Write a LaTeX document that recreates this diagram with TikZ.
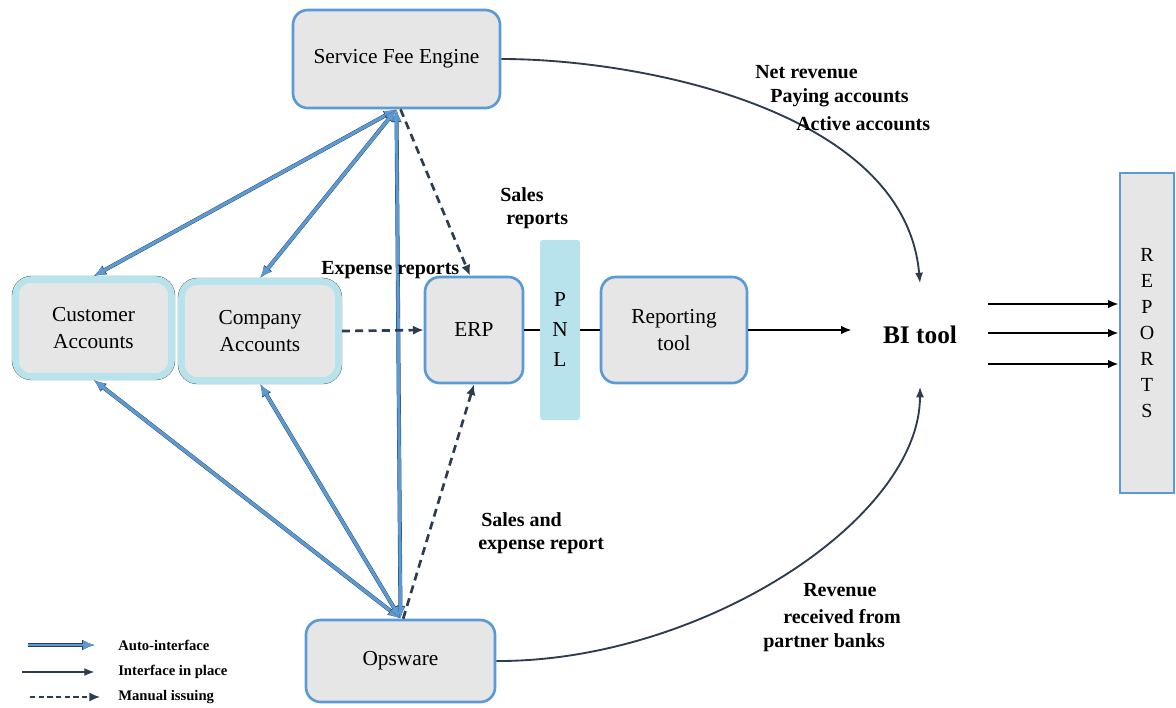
\documentclass[tikz,border=0pt]{standalone}
\usepackage{fontspec}
\setmainfont{Liberation Serif}
\usetikzlibrary{arrows.meta}

\definecolor{boxfill}{HTML}{E6E6E6}
\definecolor{boxblue}{HTML}{5B9BD5}
\definecolor{paleblue}{HTML}{B8E3EC}
\definecolor{ink}{HTML}{2E3C50}
\definecolor{rim}{HTML}{404040}

\begin{document}
\begin{tikzpicture}[x=0.75pt,y=-0.75pt,
  sysbox/.style={draw=boxblue, line width=2pt, fill=boxfill, rounded corners=11pt,
    align=center, inner sep=0pt, font=\fontsize{16}{20}\selectfont},
  acctbox/.style={draw=paleblue, line width=5pt, fill=boxfill, rounded corners=12pt,
    preaction={draw=rim, line width=5.5pt}, align=center, inner sep=0pt,
    font=\fontsize{16}{20}\selectfont},
  autolink/.style={draw=boxblue, line width=2.4pt,
    {Latex[length=9pt,width=7pt]}-{Latex[length=9pt,width=7pt]},
    preaction={draw=ink, line width=3pt,
      {Latex[length=9.6pt,width=8pt]}-{Latex[length=9.6pt,width=8pt]}}},
  autoone/.style={draw=boxblue, line width=2.2pt, -{Latex[length=9pt,width=7pt]},
    preaction={draw=ink, line width=2.8pt, -{Latex[length=9.6pt,width=8pt]}}},
  manual/.style={draw=ink, line width=2pt, dash pattern=on 6pt off 4pt,
    -{Latex[length=8pt,width=7pt]}},
  solidlink/.style={draw=ink, line width=1.4pt, -{Latex[length=8pt,width=6pt]}},
  blackarrow/.style={draw=black, line width=1.8pt, -{Latex[length=8pt,width=6.5pt]}},
  lbl/.style={anchor=west, inner sep=0pt, font=\bfseries\fontsize{15}{18}\selectfont},
  legendtxt/.style={anchor=west, inner sep=0pt, font=\bfseries\fontsize{11}{13}\selectfont}
]
\useasboundingbox (0,0) rectangle (1176,707);

% systems
\node[sysbox, minimum width=155.25pt, minimum height=73.5pt] (sfe) at (396.5,59) {Service Fee Engine};
\node[acctbox, minimum width=117pt, minimum height=72.75pt] (cust) at (93.5,328) {Customer\\Accounts};
\node[acctbox, minimum width=117.75pt, minimum height=74.25pt] (comp) at (260,331) {Company\\Accounts};
\node[sysbox, minimum width=73.5pt, minimum height=79.5pt] (erp) at (474,330) {ERP};
\node[fill=paleblue, rounded corners=2pt, minimum width=30pt, minimum height=135pt,
  inner sep=0pt, align=center, font=\fontsize{16}{22.5}\selectfont] (pnl) at (560,330) {P\\N\\L};
\node[sysbox, minimum width=109.5pt, minimum height=79.5pt] (rep) at (674,330) {Reporting\\tool};
\node[sysbox, minimum width=141.75pt, minimum height=61.5pt] (ops) at (400.5,661) {Opsware};
\node[minimum width=102pt, minimum height=77pt, inner sep=0pt,
  font=\bfseries\fontsize{19}{22}\selectfont] (bi) at (920,335) {BI tool};
\node[draw=boxblue, line width=2pt, fill=boxfill, minimum width=40.5pt, minimum height=240pt,
  inner sep=0pt, align=center, font=\fontsize{15}{19.5}\selectfont] (rpt) at (1147,333)
  {R\\E\\P\\O\\R\\T\\S};

% automatic interfaces
\draw[autolink] (sfe.south) -- (cust.north);
\draw[autolink] (sfe.south) -- (comp.north);
\draw[autolink] (sfe.south) -- (ops.north);
\draw[autolink] (ops.north) -- (cust.south);
\draw[autolink] (ops.north) -- (comp.south);

% manual issuing
\draw[manual] ([xshift=3pt]sfe.south) -- ([xshift=-3pt]erp.north);
\draw[manual] ([xshift=2pt]ops.north) -- (erp.south);
\draw[manual] (comp.east) -- (erp.west);

% interfaces in place
\draw[black, line width=2.2pt] (erp.east) -- (pnl.west);
\draw[black, line width=2.2pt] (pnl.east) -- (rep.west);
\draw[blackarrow] (rep.east) -- (rep.east -| bi.west);
\draw[solidlink] (sfe.east) .. controls (640,59) and (905,110) .. (bi.north);
\draw[solidlink] (ops.east) .. controls (700,662) and (920,520) .. (bi.south);
\draw[blackarrow] (bi.east |- 0,304) -- (rpt.west |- 0,304);
\draw[blackarrow] (bi.east |- 0,333) -- (rpt.west |- 0,333);
\draw[blackarrow] (bi.east |- 0,364) -- (rpt.west |- 0,364);

% labels
\node[lbl] (netrev) at (755,72) {Net revenue};
\node[lbl] (payacc) at (770,98) {Paying accounts};
\node[lbl] (actacc) at (796,124) {Active accounts};
\node[lbl] (sales1) at (500,195) {Sales};
\node[lbl] (sales2) at (506,221) {reports};
\node[lbl] (expense) at (321,270) {Expense reports};
\node[lbl] (se1) at (481,520) {Sales and};
\node[lbl] (se2) at (478,546) {expense report};
\node[lbl] (rev1) at (803,590) {Revenue};
\node[lbl] (rev2) at (783,617) {received from};
\node[lbl] (rev3) at (763,643) {partner banks};

% legend
\coordinate (la1) at (28,645);  \coordinate (lb1) at (95,645);
\coordinate (la2) at (22,672);  \coordinate (lb2) at (95,672);
\coordinate (la3) at (30,697);  \coordinate (lb3) at (100,697);
\draw[autoone, line width=1.6pt] (la1) -- (lb1);
\draw[solidlink, line width=1.6pt] (la2) -- (lb2);
\draw[manual, line width=1.3pt, dash pattern=on 4pt off 2.5pt] (la3) -- (lb3);
\node[legendtxt] (lg1) at (118,645) {Auto-interface};
\node[legendtxt] (lg2) at (118,672) {Interface in place};
\node[legendtxt] (lg3) at (118,697) {Manual issuing};
\end{tikzpicture}
\end{document}
